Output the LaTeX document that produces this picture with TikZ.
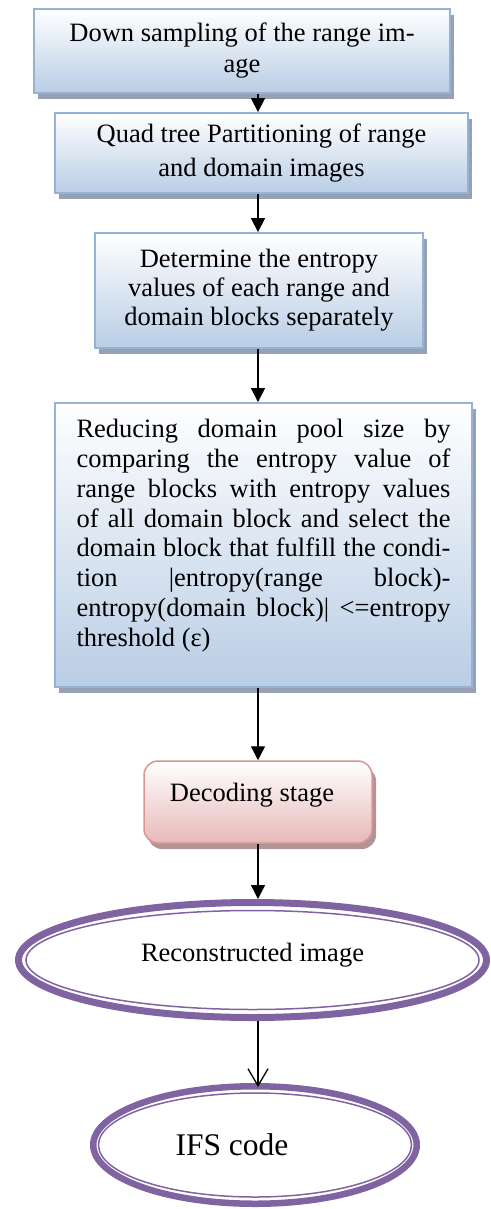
\documentclass[tikz,border=0pt]{standalone}
\usepackage{fontspec}
\setmainfont{Liberation Serif}
\usetikzlibrary{arrows.meta,shapes.geometric,shadows}
\definecolor{boxedge}{HTML}{95B3D7}
\definecolor{boxfill}{HTML}{B9CDE5}
\definecolor{boxshade}{HTML}{96A2B4}
\definecolor{pinkedge}{HTML}{D99694}
\definecolor{pinkfill}{HTML}{E6B9B8}
\definecolor{pinkshade}{HTML}{B39494}
\definecolor{purp}{HTML}{8064A2}
\newcommand{\jline}[1]{\makebox[374pt][s]{#1}}
\begin{document}
\begin{tikzpicture}[x=1pt,y=-1pt,
  bluebox/.style={rectangle, draw=boxedge, line width=1.8pt,
    top color=white, bottom color=boxfill,
    general shadow={fill=boxshade, shadow xshift=4pt, shadow yshift=-6pt},
    align=center, inner sep=0pt},
  pinkbox/.style={rectangle, rounded corners=14pt, draw=pinkedge, line width=1.5pt,
    top color=white, bottom color=pinkfill,
    general shadow={fill=pinkshade, shadow xshift=4pt, shadow yshift=-6pt},
    inner sep=0pt},
  oval/.style={ellipse, draw=purp, inner sep=0pt},
  ring/.style={draw=purp, line width=1.5pt},
  arr/.style={-{Triangle[length=14pt,width=14pt]}, line width=1.3pt},
  openarr/.style={-{Straight Barb[length=17pt,width=20pt]}, line width=1.3pt}]
\useasboundingbox (0,0) rectangle (490,1209);

% process boxes
\node[bluebox, minimum width=416pt, minimum height=84pt,
  font=\fontsize{26.5}{31}\selectfont] (b1) at (242,51)
  {Down sampling of the range im-\\age};
\node[bluebox, minimum width=413pt, minimum height=80pt,
  font=\fontsize{26.5}{34}\selectfont] (b2) at (261.5,153)
  {Quad tree Partitioning of range\\and domain images};
\node[bluebox, minimum width=328pt, minimum height=115pt,
  font=\fontsize{26.5}{29}\selectfont] (b3) at (259,290.5)
  {Determine the entropy\\values of each range and\\domain blocks separately};
\node[bluebox, inner xsep=21.5pt, inner ysep=16pt] (b4) at (263.5,545)
  {\parbox[c][252pt][t]{374pt}{\fontsize{26.5}{29.9}\selectfont
   \jline{Reducing domain pool size by}\\
   \jline{comparing the entropy value of}\\
   \jline{range blocks with entropy values}\\
   \jline{of all domain block and select the}\\
   \jline{domain block that fulfill the condi-}\\
   \jline{tion |entropy(range block)-}\\
   \jline{entropy(domain block)| <=entropy}\\
   threshold (ε)}};

% decoding step
\node[pinkbox, minimum width=228pt, minimum height=82pt,
  text height=20pt, text depth=22pt,
  font=\fontsize{26.5}{30}\selectfont] (dec) at (258,802)
  {Decoding stage\hspace*{12pt}};

% outputs
\node[oval, line width=7pt, minimum width=468pt, minimum height=115pt,
  text height=14pt, text depth=12pt,
  font=\fontsize{26.5}{30}\selectfont] (e1) at (252.5,960) {Reconstructed image};
\draw[ring] (e1.center) ellipse [x radius=226.5, y radius=49.5];

\node[oval, line width=6.5pt, minimum width=323.5pt, minimum height=117.5pt,
  font=\fontsize{31.5}{36}\selectfont] (e2) at (255,1145) {IFS code\hspace*{46pt}};
\draw[ring] (e2.center) ellipse [x radius=156.5, y radius=52];

% flow
\draw[arr] (b1.south -| dec) -- (b2.north -| dec);
\draw[arr] (b2.south -| dec) -- (b3.north -| dec);
\draw[arr] (b3.south -| dec) -- (b4.north -| dec);
\draw[arr] (b4.south -| dec) -- (dec.north);
\draw[arr] (dec.south) -- (e1.north -| dec);
\draw[openarr, shorten >=-4pt] (e1.south -| dec) -- (e2.north -| dec);
\end{tikzpicture}
\end{document}
